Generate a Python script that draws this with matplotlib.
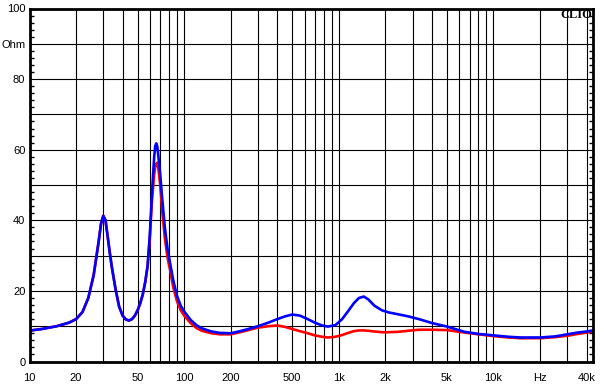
import numpy as np
import matplotlib
matplotlib.use('Agg')
import matplotlib.pyplot as plt
from matplotlib.ticker import FixedLocator, NullFormatter

# impedance curves (Hz, Ohm)
freq = [10, 12, 15, 18, 20, 22, 24, 26, 28, 29, 30, 31, 32, 33, 34, 36, 38, 40,
        42, 44, 46, 48, 50, 52, 54, 56, 58, 60, 62, 64, 65, 66, 67, 68, 70, 72,
        75, 78, 81, 85, 90, 95, 100, 110, 120, 130, 150, 170, 200, 230, 260,
        300, 350, 400, 450, 500, 560, 630, 700, 780, 850, 950, 1050, 1150,
        1250, 1350, 1450, 1550, 1700, 1900, 2100, 2400, 2800, 3300, 4000,
        5000, 6500, 8000, 10000, 12500, 15000, 20000, 25000, 30000, 35000,
        40000, 44000]

blue = [8.75, 9.2, 10.0, 11.0, 12.0, 14.0, 18.0, 24.5, 34.0, 39.0, 41.3, 40.0,
        35.5, 31.0, 27.0, 20.5, 15.5, 13.0, 11.9, 11.6, 12.0, 13.0, 14.5, 16.5,
        19.0, 22.5, 27.0, 36.0, 48.0, 58.0, 61.0, 61.8, 61.0, 58.5, 53.0, 46.5,
        38.0, 32.0, 28.0, 23.0, 18.5, 15.8, 14.2, 11.8, 10.3, 9.4, 8.5, 8.1,
        8.0, 8.6, 9.2, 10.0, 11.0, 12.0, 12.8, 13.3, 13.0, 12.0, 11.0, 10.2,
        9.9, 10.3, 12.0, 14.3, 16.5, 18.0, 18.4, 17.6, 15.8, 14.5, 13.9, 13.4,
        12.8, 12.0, 10.9, 9.9, 8.4, 7.8, 7.4, 7.0, 6.8, 6.8, 7.1, 7.7, 8.2,
        8.5, 8.8]

red = [8.75, 9.2, 10.0, 11.0, 12.0, 14.0, 18.0, 24.5, 34.0, 39.0, 41.3, 40.0,
       35.5, 31.0, 27.0, 20.5, 15.5, 13.0, 11.9, 11.6, 12.0, 13.0, 14.5, 16.5,
       19.0, 22.5, 27.0, 35.0, 46.0, 53.0, 55.0, 56.0, 56.3, 55.0, 50.0, 43.0,
       35.0, 29.5, 26.0, 21.0, 17.0, 14.5, 13.0, 10.9, 9.5, 8.7, 8.0, 7.7,
       7.7, 8.3, 8.9, 9.6, 10.0, 10.2, 9.8, 9.2, 8.6, 8.0, 7.4, 7.0, 6.8, 7.0,
       7.5, 8.1, 8.6, 8.8, 8.8, 8.7, 8.5, 8.3, 8.3, 8.4, 8.7, 9.0, 9.0, 8.9,
       8.2, 7.7, 7.2, 6.8, 6.6, 6.6, 6.9, 7.3, 7.8, 8.2, 8.5]

x_grid = [10, 20, 30, 40, 50, 60, 70, 80, 90, 100, 200, 300, 400, 500, 600,
          700, 800, 900, 1000, 2000, 3000, 4000, 5000, 6000, 7000, 8000, 9000,
          10000, 20000, 30000, 40000]
x_labels = {10: '10', 20: '20', 50: '50', 100: '100', 200: '200', 500: '500',
            1000: '1k', 2000: '2k', 5000: '5k', 10000: '10k', 20000: 'Hz',
            40000: '40k'}
y_grid = [0, 10, 20, 30, 40, 50, 60, 70, 80, 90, 100]
y_labels = ['0', '', '20', '', '40', '', '60', '', '80', 'Ohm', '100']

plt.rcParams['font.family'] = ['Liberation Sans', 'DejaVu Sans']

fig = plt.figure(figsize=(6.04, 3.88), dpi=100)
ax = fig.add_axes([29.5/604, 1-361.5/388, (593-29.5)/604, (361.5-8.5)/388])

ax.plot(freq, red, color='#ff0000', lw=1.9, zorder=3)
ax.plot(freq, blue, color='#0000ff', lw=1.9, zorder=4)

ax.set_xscale('log')
ax.set_xlim(10, 44000)
ax.set_ylim(0, 100)

ax.xaxis.set_major_locator(FixedLocator(x_grid))
ax.xaxis.set_minor_locator(FixedLocator([]))
ax.set_xticklabels([x_labels.get(v, '') for v in x_grid])
ax.xaxis.set_minor_formatter(NullFormatter())
ax.set_yticks(y_grid)
ax.set_yticklabels(y_labels)
ax.set_yticks(np.arange(0, 101, 2), minor=True)

ax.tick_params(axis='x', which='major', length=0, pad=8, labelsize=8)
ax.tick_params(axis='y', which='major', length=0, pad=3, labelsize=8)
ax.tick_params(axis='y', which='minor', direction='in', length=3, width=1,
               left=True, right=True)

ax.grid(True, which='major', color='black', lw=0.8)
for s in ax.spines.values():
    s.set_linewidth(2.0)
    s.set_zorder(5)

fig.text(592/604, 1-15.5/388, 'CLIO', ha='right', va='center', fontsize=9,
         fontweight='bold', family='Liberation Serif', zorder=10)

fig.savefig('out.png', dpi=100)
